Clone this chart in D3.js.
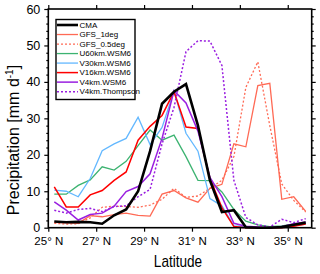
<!DOCTYPE html>
<html><head><meta charset="utf-8">
<script src="https://cdn.jsdelivr.net/npm/d3@7"></script>
<style>
html,body{margin:0;padding:0;background:#fff;}
svg{display:block;font-family:"Liberation Sans",Arial,Helvetica,sans-serif;}
</style></head>
<body><svg id="c" width="320" height="274"></svg>
<script>
const lats = [25.25,25.75,26.25,26.75,27.25,27.75,28.25,28.75,29.25,29.75,30.25,30.75,31.25,31.75,32.25,32.75,33.25,33.75,34.25,34.75,35.25,35.75];
const cma      = [1.7,1.5,1.6,1.5,1.1,3.4,5.0,10.0,21.0,34.0,37.3,39.4,28.0,13.0,4.3,4.8,0.1,0.0,0.0,0.2,0.8,1.4];
const gfs1deg  = [1.5,1.3,1.2,3.3,3.0,3.6,4.0,3.4,3.2,9.2,10.2,8.2,7.0,10.8,11.9,23.0,22.2,39.0,39.6,7.8,8.5,4.5];
const gfs05deg = [1.2,1.0,1.1,2.7,5.6,5.9,5.8,5.6,6.2,7.8,10.8,8.3,8.7,10.8,13.0,19.5,38.5,45.5,28.0,12.0,7.5,4.3];
const u60wsm6  = [9.2,9.2,11.6,13.1,16.7,15.8,18.2,22.5,26.8,24.0,25.4,19.5,13.0,12.9,9.8,5.0,1.8,0.8,0.3,0.5,1.0,1.4];
const v30wsm6  = [10.3,10.0,8.5,13.5,21.1,23.0,24.5,30.3,22.8,27.5,37.5,25.9,21.0,8.0,6.0,0.5,0.3,0.0,0.0,0.0,0.5,1.0];
const v16wsm6  = [11.2,5.7,5.7,9.0,10.2,13.0,15.3,24.0,27.8,30.8,37.3,27.6,27.2,13.5,5.5,0.3,0.0,0.0,0.0,0.0,0.4,1.0];
const v4wsm6   = [7.1,4.8,2.1,3.6,4.0,5.9,9.9,11.3,14.8,24.5,37.6,34.2,26.5,13.8,8.5,1.2,0.4,0.2,0.0,0.3,1.1,1.6];
const v4thomp  = [4.8,4.0,5.0,5.3,4.4,5.8,6.0,8.5,10.5,23.0,33.0,48.3,51.3,51.2,44.5,13.0,2.8,0.8,0.2,2.3,1.4,2.5];
const xTicks = [25,27,29,31,33,35];
const xTickLabels = ["25\u00B0 N","27\u00B0 N","29\u00B0 N","31\u00B0 N","33\u00B0 N","35\u00B0 N"];
const yTicks = [0,10,20,30,40,50,60];
const seriesNames = ["CMA","GFS_1deg","GFS_0.5deg","U60km.WSM6","V30km.WSM6","V16km.WSM6","V4km.WSM6","V4km.Thompson"];

const series = [
  {name:seriesNames[0], values:cma,      color:"#000000", width:2.6, dash:null},
  {name:seriesNames[1], values:gfs1deg,  color:"#FF6A55", width:1.3, dash:null},
  {name:seriesNames[2], values:gfs05deg, color:"#FF6A55", width:1.3, dash:"2,2"},
  {name:seriesNames[3], values:u60wsm6,  color:"#3CB371", width:1.3, dash:null},
  {name:seriesNames[4], values:v30wsm6,  color:"#63B8FF", width:1.3, dash:null},
  {name:seriesNames[5], values:v16wsm6,  color:"#FF0000", width:1.5, dash:null},
  {name:seriesNames[6], values:v4wsm6,   color:"#9A1FE0", width:1.5, dash:null},
  {name:seriesNames[7], values:v4thomp,  color:"#9A1FE0", width:1.5, dash:"2,2"}
];

const L=48.3, R=311.7, T=9, B=227.7;
const svg = d3.select("#c");
const x = d3.scaleLinear().domain([25,36]).range([L,R]);
const y = d3.scaleLinear().domain([0,60]).range([B,T]);

const line = d3.line().x((d,i)=>x(lats[i])).y(d=>y(d));
const g = svg.append("g");
const order = [1,2,3,4,5,7,6,0];
order.forEach(k=>{
  const s = series[k];
  g.append("path").datum(s.values).attr("d",line)
    .attr("fill","none").attr("stroke",s.color).attr("stroke-width",s.width)
    .attr("stroke-dasharray",s.dash).attr("stroke-linejoin","miter");
});

const fmtX = d => xTickLabels[xTicks.indexOf(d)];
const ax = svg.append("g").attr("transform",`translate(0,${B})`)
  .call(d3.axisBottom(x).tickValues(xTicks).tickFormat(fmtX).tickSize(4).tickPadding(5));
svg.append("g").attr("transform",`translate(0,${T})`)
  .call(d3.axisTop(x).tickValues(xTicks).tickFormat("").tickSize(4));
const ay = svg.append("g").attr("transform",`translate(${L},0)`)
  .call(d3.axisLeft(y).tickValues(yTicks).tickSize(4).tickPadding(4));
svg.append("g").attr("transform",`translate(${R},0)`)
  .call(d3.axisRight(y).tickValues(yTicks).tickFormat("").tickSize(4));
const minorY = d3.range(0,61,2).filter(v=>v%10!==0);
svg.append("g").attr("transform",`translate(${L},0)`)
  .call(d3.axisLeft(y).tickValues(minorY).tickFormat("").tickSize(2));
svg.append("g").attr("transform",`translate(${R},0)`)
  .call(d3.axisRight(y).tickValues(minorY).tickFormat("").tickSize(2));
svg.selectAll(".domain").remove();
svg.selectAll(".tick line").attr("stroke","#000").attr("stroke-width",1.2);
ax.selectAll("text").attr("font-size",11.5).attr("fill","#000");
ay.selectAll("text").attr("font-size",12.5).attr("fill","#000");

svg.append("rect").attr("x",L).attr("y",T).attr("width",R-L).attr("height",B-T)
  .attr("fill","none").attr("stroke","#000").attr("stroke-width",1.6);

svg.append("text").attr("x",178).attr("y",267).attr("text-anchor","middle")
  .attr("font-size",16).attr("transform","translate(178,0) scale(0.85,1) translate(-178,0)")
  .text("Latitude");
const yt = svg.append("text").attr("transform","translate(19,140) rotate(-90)")
  .attr("text-anchor","middle").attr("font-size",16);
yt.append("tspan").text("Precipitation [mm d");
yt.append("tspan").attr("dy",-6).attr("font-size",10).text("-1");
yt.append("tspan").attr("dy",6).text("]");

const lg = svg.append("g");
lg.append("rect").attr("x",56).attr("y",19.5).attr("width",79).attr("height",80)
  .attr("fill","#fff").attr("stroke","#000").attr("stroke-width",1.4);
series.forEach((s,i)=>{
  const yy = 25 + i*9.52;
  lg.append("line").attr("x1",57).attr("x2",78).attr("y1",yy).attr("y2",yy)
    .attr("stroke",s.color).attr("stroke-width",s.width).attr("stroke-dasharray",s.dash);
  lg.append("text").attr("x",79.5).attr("y",yy+2.8).attr("font-size",8).attr("fill","#000")
    .text(s.name);
});
</script></body></html>
